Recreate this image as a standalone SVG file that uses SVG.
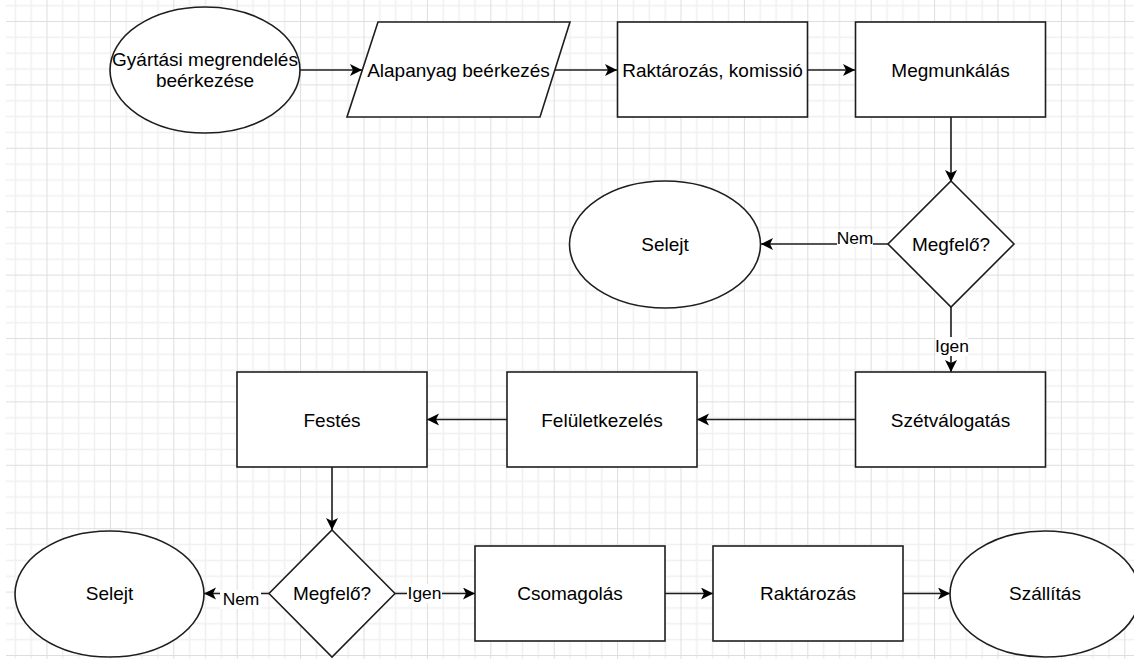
<svg xmlns="http://www.w3.org/2000/svg" width="1134" height="659" viewBox="0 0 1134 659">
<style>
.n{fill:#fff;stroke:#1e1e1e;stroke-width:1.6}
.t{font-family:"Liberation Sans",Arial,sans-serif;font-size:19px;fill:#000;text-anchor:middle}
.l{font-family:"Liberation Sans",Arial,sans-serif;font-size:17.4px;fill:#000;text-anchor:middle}
.c{fill:none;stroke:#1e1e1e;stroke-width:1.6}
.bg{fill:#fff}
</style>
<defs>
<pattern id="grid" x="46.5" y="21" width="63.4" height="63.4" patternUnits="userSpaceOnUse">
<path d="M16.35 0V63.4M32.2 0V63.4M48.05 0V63.4M0 16.35H63.4M0 32.2H63.4M0 48.05H63.4" stroke="#f0f0f0" stroke-width="1.6" fill="none"/>
<path d="M0.5 0V63.4M0 0.5H63.4" stroke="#dedede" stroke-width="1" fill="none"/>
</pattern>
<marker id="arr" markerWidth="14" markerHeight="14" refX="12" refY="6" orient="auto" markerUnits="userSpaceOnUse">
<path d="M0,0 L12,6 L0,12 L3,6 Z" fill="#000"/>
</marker>
</defs>
<rect width="1134" height="659" fill="#fff"/>
<rect x="6" y="0" width="1128" height="659" fill="url(#grid)"/>

<g id="connectors">
<path class="c" d="M300,70 H362" marker-end="url(#arr)"/>
<path class="c" d="M555,70 H617" marker-end="url(#arr)"/>
<path class="c" d="M808,70 H855" marker-end="url(#arr)"/>
<path class="c" d="M951,117 V182" marker-end="url(#arr)"/>
<path class="c" d="M888,244 H761" marker-end="url(#arr)"/>
<path class="c" d="M951,307 V372" marker-end="url(#arr)"/>
<path class="c" d="M855,419.5 H697" marker-end="url(#arr)"/>
<path class="c" d="M507,419.5 H427" marker-end="url(#arr)"/>
<path class="c" d="M332,467 V530" marker-end="url(#arr)"/>
<path class="c" d="M269,593.5 H204" marker-end="url(#arr)"/>
<path class="c" d="M395,593.5 H475" marker-end="url(#arr)"/>
<path class="c" d="M665,593.5 H713" marker-end="url(#arr)"/>
<path class="c" d="M903,593.5 H950" marker-end="url(#arr)"/>
<g id="labels">
<rect class="bg" x="837" y="230" width="36" height="17"/>
<text class="l" x="855" y="244">Nem</text>
<rect class="bg" x="936" y="337" width="32" height="19"/>
<text class="l" x="952" y="352">Igen</text>
<rect class="bg" x="220" y="590" width="41" height="19"/>
<text class="l" x="241" y="605">Nem</text>
<rect class="bg" x="407" y="584" width="35" height="19"/>
<text class="l" x="424.5" y="598.5">Igen</text>
</g>
</g>

<g id="n1"><ellipse class="n" cx="205" cy="70" rx="95" ry="63"/>
<text class="t" x="205" y="65.5">Gyártási megrendelés</text><text class="t" x="205" y="87">beérkezése</text></g>
<g id="n2"><polygon class="n" points="378,22 570,22 540,117 347,117"/>
<text class="t" x="458.5" y="76.5">Alapanyag beérkezés</text></g>
<g id="n3"><rect class="n" x="617.5" y="22" width="190" height="95"/>
<text class="t" x="712.5" y="76.5">Raktározás, komissió</text></g>
<g id="n4"><rect class="n" x="855.5" y="22" width="190" height="95"/>
<text class="t" x="950.5" y="76.5">Megmunkálás</text></g>
<g id="n5"><polygon class="n" points="951,181 1014,244 951,307 888,244"/>
<text class="t" x="951" y="251">Megfelő?</text></g>
<g id="n6"><ellipse class="n" cx="665" cy="244.5" rx="95.5" ry="63.5"/>
<text class="t" x="665" y="251">Selejt</text></g>
<g id="n7"><rect class="n" x="855.5" y="372" width="190" height="95"/>
<text class="t" x="950.5" y="426.5">Szétválogatás</text></g>
<g id="n8"><rect class="n" x="507" y="372" width="190" height="95"/>
<text class="t" x="602" y="426.5">Felületkezelés</text></g>
<g id="n9"><rect class="n" x="237" y="372" width="190" height="95"/>
<text class="t" x="332" y="426.5">Festés</text></g>
<g id="n10"><polygon class="n" points="332,530 395,593.5 332,657 269,593.5"/>
<text class="t" x="332" y="600">Megfelő?</text></g>
<g id="n11"><ellipse class="n" cx="109.5" cy="594" rx="94.5" ry="63"/>
<text class="t" x="109.5" y="600">Selejt</text></g>
<g id="n12"><rect class="n" x="475" y="546" width="190" height="95"/>
<text class="t" x="570" y="600">Csomagolás</text></g>
<g id="n13"><rect class="n" x="713" y="546" width="190" height="95"/>
<text class="t" x="808" y="600">Raktározás</text></g>
<g id="n14"><ellipse class="n" cx="1045" cy="594" rx="95" ry="63"/>
<text class="t" x="1045" y="600">Szállítás</text></g>
</svg>
